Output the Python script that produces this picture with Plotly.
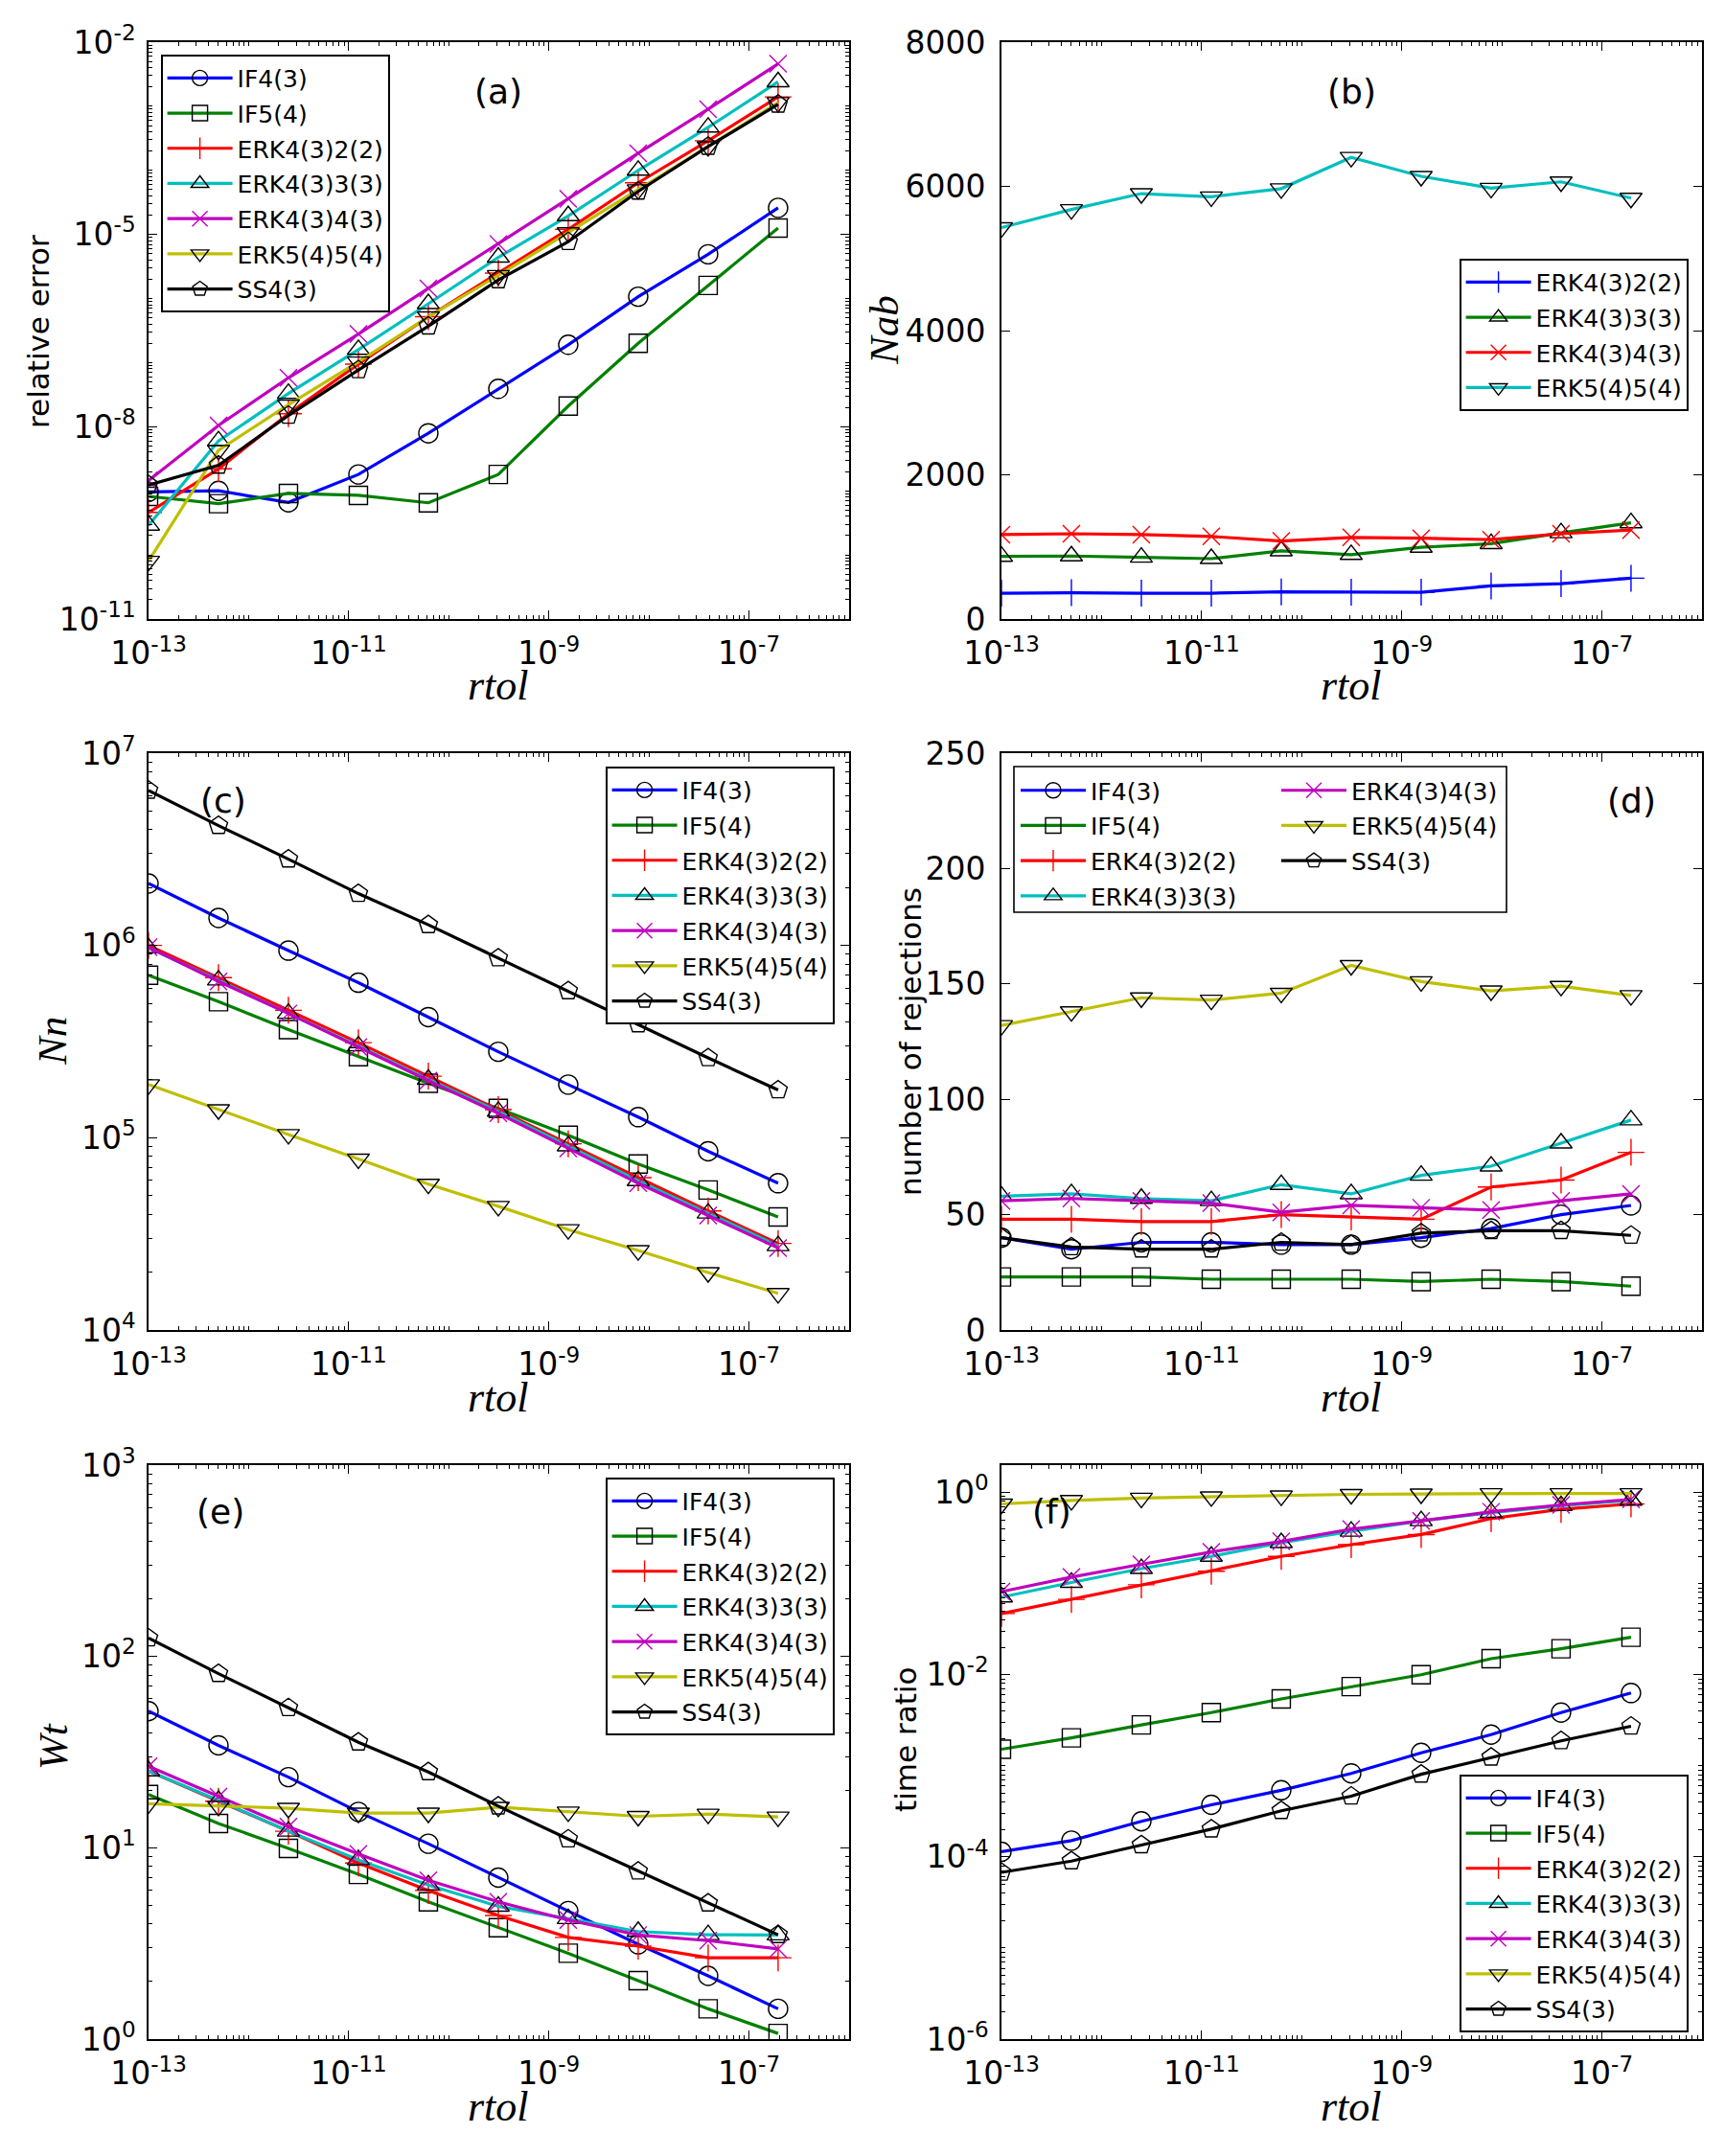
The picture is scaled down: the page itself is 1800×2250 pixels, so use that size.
import plotly.graph_objects as go

# ---------------- data ----------------
rtol = [1e-13, 5e-13, 2.5e-12, 1.25e-11, 6.25e-11, 3.125e-10,
        1.5625e-9, 7.8125e-9, 3.90625e-8, 1.953125e-7]

names7 = ["IF4(3)", "IF5(4)", "ERK4(3)2(2)", "ERK4(3)3(3)",
          "ERK4(3)4(3)", "ERK5(4)5(4)", "SS4(3)"]
names4 = ["ERK4(3)2(2)", "ERK4(3)3(3)", "ERK4(3)4(3)", "ERK5(4)5(4)"]

# (a) relative error
err_if43 = [9.6e-10, 1.0e-9, 6.6e-10, 1.8e-9, 7.9e-9, 3.9e-8, 1.9e-7, 1.07e-6, 4.9e-6, 2.6e-5]
err_if54 = [8.2e-10, 6.3e-10, 9.1e-10, 8.5e-10, 6.5e-10, 1.8e-9, 2.1e-8, 2.0e-7, 1.6e-6, 1.26e-5]
err_erk4322 = [4.6e-10, 2.2e-9, 1.6e-8, 9.5e-8, 5.2e-7, 2.5e-6, 1.2e-5, 6.4e-5, 2.9e-4, 1.4e-3]
err_erk4333 = [2.9e-10, 6.0e-9, 3.3e-8, 1.6e-7, 8.3e-7, 4.4e-6, 1.95e-5, 1.0e-4, 4.7e-4, 2.4e-3]
err_erk4343 = [1.45e-9, 1.05e-8, 5.8e-8, 2.8e-7, 1.44e-6, 7.1e-6, 3.6e-5, 1.85e-4, 9.0e-4, 4.6e-3]
err_erk5454 = [8e-11, 4.3e-9, 2.2e-8, 1.03e-7, 5.2e-7, 2.3e-6, 1.07e-5, 5.0e-5, 2.35e-4, 1.15e-3]
err_ss43 = [1.23e-9, 2.5e-9, 1.5e-8, 7.7e-8, 3.7e-7, 1.95e-6, 7.7e-6, 4.7e-5, 2.35e-4, 1.07e-3]

# (b) Nab
nab_erk4322 = [358, 365, 358, 358, 377, 371, 371, 459, 491, 566]
nab_erk4333 = [868, 874, 855, 837, 944, 893, 994, 1044, 1195, 1333]
nab_erk4343 = [1170, 1183, 1170, 1145, 1082, 1132, 1120, 1101, 1183, 1233]
nab_erk5454 = [5428, 5680, 5900, 5856, 5969, 6403, 6139, 5975, 6063, 5837]

# (c) Nn
nn_if43 = [2.1e6, 1.39e6, 9.4e5, 6.4e5, 4.24e5, 2.8e5, 1.89e5, 1.28e5, 8.5e4, 5.8e4]
nn_if54 = [7.0e5, 5.1e5, 3.65e5, 2.64e5, 1.92e5, 1.42e5, 1.03e5, 7.3e4, 5.35e4, 3.87e4]
nn_erk4322 = [1.0e6, 6.8e5, 4.6e5, 3.12e5, 2.09e5, 1.4e5, 9.3e4, 6.2e4, 4.16e4, 2.82e4]
nn_erk4333 = [9.7e5, 6.6e5, 4.43e5, 3.0e5, 2.01e5, 1.37e5, 9.06e4, 5.97e4, 4.05e4, 2.74e4]
nn_erk4343 = [9.8e5, 6.5e5, 4.43e5, 2.96e5, 1.98e5, 1.34e5, 8.8e4, 5.8e4, 3.94e4, 2.67e4]
nn_erk5454 = [1.89e5, 1.4e5, 1.04e5, 7.76e4, 5.74e4, 4.4e4, 3.33e4, 2.59e4, 1.99e4, 1.55e4]
nn_ss43 = [6.4e6, 4.2e6, 2.81e6, 1.86e6, 1.28e6, 8.6e5, 5.8e5, 3.9e5, 2.6e5, 1.77e5]

# (d) number of rejections
rej_if43 = [40, 35, 38, 38, 37, 37, 40, 44, 50, 54]
rej_if54 = [23, 23, 23, 22, 22, 22, 21, 22, 21, 19]
rej_erk4322 = [48, 48, 47, 47, 50, 49, 48, 62, 65, 77]
rej_erk4333 = [58, 59, 57, 56, 63, 59, 67, 71, 81, 91]
rej_erk4343 = [56, 57, 56, 55, 51, 54, 53, 52, 56, 59]
rej_erk5454 = [132, 138, 144, 143, 146, 158, 151, 147, 149, 145]
rej_ss43 = [40, 36, 35, 35, 38, 37, 42, 43, 43, 41]

# (e) Wt
wt_if43 = [51.8, 34.3, 23.4, 15.4, 10.5, 6.98, 4.67, 3.13, 2.14, 1.44]
wt_if54 = [19.0, 13.4, 9.93, 7.26, 5.22, 3.82, 2.81, 2.02, 1.44, 1.07]
wt_erk4322 = [25.2, 17.5, 12.2, 8.32, 5.98, 4.43, 3.40, 3.06, 2.66, 2.66]
wt_erk4333 = [25.2, 17.7, 12.2, 8.65, 6.39, 4.94, 4.26, 3.65, 3.51, 3.50]
wt_erk4343 = [26.7, 18.5, 12.9, 9.29, 6.76, 5.22, 4.19, 3.50, 3.27, 2.96]
wt_erk5454 = [17.0, 16.5, 16.1, 15.2, 15.2, 16.3, 15.4, 14.6, 15.0, 14.5]
wt_ss43 = [124.7, 81.3, 53.9, 35.6, 24.9, 16.5, 11.1, 7.54, 5.13, 3.51]

# (f) time ratio
tr_if43 = [1.14e-4, 1.51e-4, 2.46e-4, 3.73e-4, 5.39e-4, 8.26e-4, 1.39e-3, 2.2e-3, 3.84e-3, 6.3e-3]
tr_if54 = [1.52e-3, 2.03e-3, 2.81e-3, 3.84e-3, 5.42e-3, 7.41e-3, 1.0e-2, 1.5e-2, 1.93e-2, 2.58e-2]
tr_erk4322 = [0.047, 0.0671, 0.0971, 0.137, 0.199, 0.268, 0.346, 0.518, 0.653, 0.750]
tr_erk4333 = [0.0711, 0.103, 0.146, 0.199, 0.281, 0.375, 0.489, 0.602, 0.716, 0.822]
tr_erk4343 = [0.0817, 0.118, 0.163, 0.223, 0.291, 0.397, 0.489, 0.616, 0.732, 0.841]
tr_erk5454 = [0.75, 0.82, 0.87, 0.90, 0.92, 0.955, 0.966, 0.977, 0.977, 0.977]
tr_ss43 = [6.76e-5, 9.0e-5, 1.35e-4, 2.02e-4, 3.21e-4, 4.64e-4, 8.07e-4, 1.24e-3, 1.88e-3, 2.72e-3]

# tick labels
x_tick_exps = [-13, -11, -9, -7]
ya_tick_exps = [-11, -8, -5, -2]
yc_tick_exps = [4, 5, 6, 7]
ye_tick_exps = [0, 1, 2, 3]
yf_tick_exps = [-6, -4, -2, 0]

# ---------------- styles ----------------
BLUE, GREEN, RED = "#0000ff", "#008000", "#ff0000"
CYAN, MAGENTA, YELLOW, BLACK = "#00bfbf", "#bf00bf", "#bfbf00", "#000000"

style7 = [
    dict(color=BLUE, symbol="circle-open", mcolor=BLACK, size=20),
    dict(color=GREEN, symbol="square-open", mcolor=BLACK, size=19),
    dict(color=RED, symbol="cross-thin-open", mcolor=RED, size=20),
    dict(color=CYAN, symbol="triangle-up-open", mcolor=BLACK, size=20),
    dict(color=MAGENTA, symbol="x-thin-open", mcolor=MAGENTA, size=18),
    dict(color=YELLOW, symbol="triangle-down-open", mcolor=BLACK, size=20),
    dict(color=BLACK, symbol="pentagon-open", mcolor=BLACK, size=20),
]
style4 = [
    dict(color=BLUE, symbol="cross-thin-open", mcolor=BLUE, size=20),
    dict(color=GREEN, symbol="triangle-up-open", mcolor=BLACK, size=20),
    dict(color=RED, symbol="x-thin-open", mcolor=RED, size=18),
    dict(color=CYAN, symbol="triangle-down-open", mcolor=BLACK, size=20),
]

FONT = "DejaVu Sans"
SERIF = "Liberation Serif"
W, H = 1800, 2250

fig = go.Figure()


def add_series(ax_idx, names, ys, styles, legends):
    xa = "x" if ax_idx == 1 else f"x{ax_idx}"
    ya = "y" if ax_idx == 1 else f"y{ax_idx}"
    for i, (nm, yv, st) in enumerate(zip(names, ys, styles)):
        lg = legends[i] if isinstance(legends, list) else legends
        fig.add_trace(go.Scatter(
            x=rtol, y=yv, name=nm, mode="lines+markers",
            xaxis=xa, yaxis=ya, legend=lg, legendgroup=f"{ax_idx}_{i}",
            line=dict(color=st["color"], width=3.2),
            marker=dict(symbol=st["symbol"], size=st["size"], color=st["mcolor"],
                        line=dict(width=1.4, color=st["mcolor"])),
        ))


add_series(1, names7, [err_if43, err_if54, err_erk4322, err_erk4333, err_erk4343, err_erk5454, err_ss43],
           style7, "legend")
add_series(2, names4, [nab_erk4322, nab_erk4333, nab_erk4343, nab_erk5454], style4, "legend2")
add_series(3, names7, [nn_if43, nn_if54, nn_erk4322, nn_erk4333, nn_erk4343, nn_erk5454, nn_ss43],
           style7, "legend3")
add_series(4, names7, [rej_if43, rej_if54, rej_erk4322, rej_erk4333, rej_erk4343, rej_erk5454, rej_ss43],
           style7, ["legend4"] * 4 + ["legend5"] * 3)
add_series(5, names7, [wt_if43, wt_if54, wt_erk4322, wt_erk4333, wt_erk4343, wt_erk5454, wt_ss43],
           style7, "legend6")
add_series(6, names7, [tr_if43, tr_if54, tr_erk4322, tr_erk4333, tr_erk4343, tr_erk5454, tr_ss43],
           style7, "legend7")

# ---------------- axes ----------------
XD = [[155 / W, 886 / W], [1045 / W, 1776 / W]]
YD = [[1 - 646 / H, 1 - 44 / H], [1 - 1388 / H, 1 - 786 / H], [1 - 2128 / H, 1 - 1529 / H]]


def minor_vals(e0, e1, exclude):
    vals = []
    for e in range(e0, e1 + 1):
        for m in range(1, 10):
            if m == 1 and e in exclude:
                continue
            if e == e1 and m > 1:
                continue
            vals.append(m * 10.0 ** e)
    return vals


def exp_text(e):
    return f"10<sup>{e}</sup>"


common = dict(showline=True, linecolor="black", linewidth=1.6, mirror="allticks",
              ticks="inside", ticklen=9, tickwidth=1.3, tickcolor="black",
              showgrid=False, zeroline=False, automargin=False,
              tickfont=dict(family=FONT, size=33, color="black"))


def log_axis(rng, exps, minor_range):
    return dict(type="log", range=rng, tickmode="array",
                tickvals=[10.0 ** e for e in exps],
                ticktext=[exp_text(e) for e in exps],
                minor=dict(tickmode="array",
                           tickvals=minor_vals(minor_range[0], minor_range[1], exps),
                           ticks="inside", ticklen=4.5, tickwidth=1, tickcolor="black",
                           showgrid=False),
                **common)


layout_axes = {}
for k in range(6):
    col = k % 2
    idx = k + 1
    xname = "xaxis" if idx == 1 else f"xaxis{idx}"
    yref = "y" if idx == 1 else f"y{idx}"
    xa = log_axis([-13, -6], x_tick_exps, (-13, -6))
    xa.update(domain=XD[col], anchor=yref, ticklabelstandoff=6)
    layout_axes[xname] = xa

layout_axes["yaxis"] = log_axis([-11, -2], ya_tick_exps, (-11, -2))
layout_axes["yaxis2"] = dict(type="linear", range=[0, 8000], tickmode="array",
                             tickvals=[0, 2000, 4000, 6000, 8000], **common)
layout_axes["yaxis3"] = log_axis([4, 7], yc_tick_exps, (4, 7))
layout_axes["yaxis4"] = dict(type="linear", range=[0, 250], tickmode="array",
                             tickvals=[0, 50, 100, 150, 200, 250], **common)
layout_axes["yaxis5"] = log_axis([0, 3], ye_tick_exps, (0, 3))
layout_axes["yaxis6"] = log_axis([-6, 0.301], yf_tick_exps, (-6, 0))
for k in range(6):
    idx = k + 1
    row = k // 2
    yname = "yaxis" if idx == 1 else f"yaxis{idx}"
    xref = "x" if idx == 1 else f"x{idx}"
    standoff = 8 if idx in (2, 4) else 5
    layout_axes[yname].update(domain=YD[row], anchor=xref, ticklabelstandoff=standoff)

# ---------------- legends ----------------
leg_common = dict(font=dict(family=FONT, size=25, color="black"),
                  bgcolor="white", bordercolor="black", borderwidth=1.6,
                  itemwidth=68, tracegroupgap=1.2, yanchor="top")
legends = {
    "legend": dict(x=168 / W, y=1 - 57 / H, xanchor="left", **leg_common),
    "legend2": dict(x=1762 / W, y=1 - 270 / H, xanchor="right", **leg_common),
    "legend3": dict(x=871 / W, y=1 - 800 / H, xanchor="right", **leg_common),
    "legend6": dict(x=871 / W, y=1 - 1542 / H, xanchor="right", **leg_common),
    "legend7": dict(x=1762 / W, y=1 - 1852 / H, xanchor="right", **leg_common),
}
leg_d = dict(leg_common)
leg_d.update(bgcolor="rgba(0,0,0,0)", borderwidth=0)
legends["legend4"] = dict(x=1060 / W, y=1 - 802 / H, xanchor="left", **leg_d)
legends["legend5"] = dict(x=1332 / W, y=1 - 802 / H, xanchor="left", **leg_d)

shapes = [dict(type="rect", xref="paper", yref="paper",
               x0=1058 / W, x1=1572 / W, y0=1 - 952 / H, y1=1 - 800 / H,
               line=dict(color="black", width=1.6), fillcolor="white", layer="above")]

# ---------------- annotations ----------------
ann = []


def text_ann(txt, x, y, size, family=FONT, angle=0):
    ann.append(dict(text=txt, x=x / W, y=1 - y / H, xref="paper", yref="paper",
                    showarrow=False, xanchor="center", yanchor="middle",
                    textangle=angle, font=dict(family=family, size=size, color="black")))


# y-axis titles
text_ann("relative error", 40, 346, 31, angle=-90)
text_ann("<i>Nab</i>", 922, 345, 43, family=SERIF, angle=-90)
text_ann("<i>Nn</i>", 55, 1087, 43, family=SERIF, angle=-90)
text_ann("number of rejections", 950, 1087, 31, angle=-90)
text_ann("<i>Wt</i>", 55, 1823, 43, family=SERIF, angle=-90)
text_ann("time ratio", 945, 1816, 31, angle=-90)
# x-axis titles
for cx in (520, 1410):
    for cy in (716, 1458, 2198):
        text_ann("<i>rtol</i>", cx, cy, 44, family=SERIF)
# panel labels
text_ann("(a)", 520, 95, 36)
text_ann("(b)", 1410, 95, 36)
text_ann("(c)", 233, 835, 36)
text_ann("(d)", 1702, 835, 36)
text_ann("(e)", 230, 1577, 36)
text_ann("(f)", 1097, 1577, 36)

fig.update_layout(template="none", width=W, height=H, autosize=False,
                  margin=dict(l=0, r=0, t=0, b=0, autoexpand=False),
                  paper_bgcolor="white", plot_bgcolor="white",
                  showlegend=True, annotations=ann, shapes=shapes,
                  **layout_axes, **legends)

fig.write_html("out.html")
